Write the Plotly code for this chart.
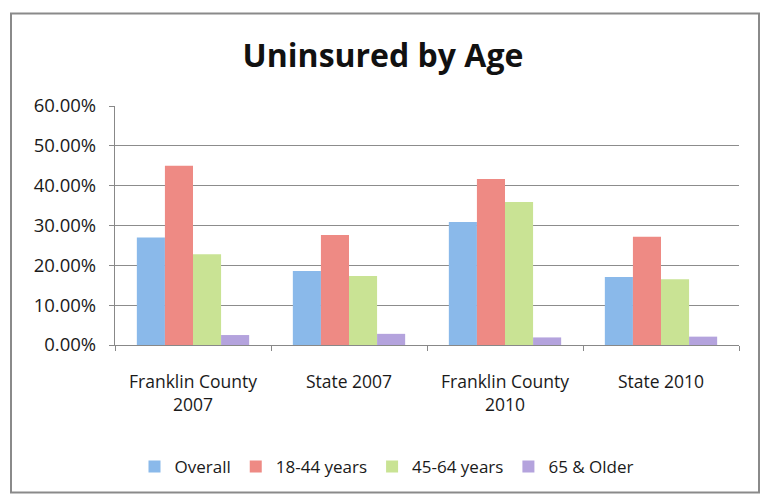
import plotly.graph_objects as go

# Uninsured rates by age group, Franklin County vs. state
categories = ["Franklin County<br>2007", "State 2007", "Franklin County<br>2010", "State 2010"]
series_names = ["Overall", "18-44 years", "45-64 years", "65 & Older"]
overall = [0.270, 0.186, 0.309, 0.171]
age_18_44 = [0.450, 0.276, 0.417, 0.272]
age_45_64 = [0.228, 0.173, 0.359, 0.165]
age_65_up = [0.025, 0.028, 0.019, 0.021]
y_ticks = [0.0, 0.1, 0.2, 0.3, 0.4, 0.5, 0.6]

series_values = [overall, age_18_44, age_45_64, age_65_up]
colors = ["#8ab9ea", "#ee8a84", "#c9e394", "#b4a3dd"]

FONT = "Open Sans"

fig = go.Figure()
for name, vals, col in zip(series_names, series_values, colors):
    fig.add_trace(go.Bar(
        x=categories, y=vals, name=name,
        marker=dict(color=col, line=dict(width=0)),
    ))

W, H = 765, 496
ml, mr, mt, mb = 115, 26, 106, 150
pw, ph = W - ml - mr, H - mt - mb


def px_x(p):
    return (p - ml) / pw


def px_y(p):
    return (H - mb - p) / ph


fig.update_layout(
    width=W, height=H,
    margin=dict(l=ml, r=mr, t=mt, b=mb),
    paper_bgcolor="white", plot_bgcolor="white",
    barmode="group", bargap=0.28, bargroupgap=0,
    font=dict(family=FONT, color="#1a1a1a", size=17),
    title=dict(
        text="<b>Uninsured by Age</b>",
        font=dict(family=FONT, size=32, color="#111"),
        x=383 / W, xanchor="center", xref="container",
        y=1 - 56 / H, yanchor="middle", yref="container",
    ),
    showlegend=True,
    legend=dict(
        orientation="h", x=px_x(387), xanchor="center",
        y=px_y(467), yanchor="middle",
        font=dict(family=FONT, size=17, color="#1a1a1a"),
        itemwidth=30, traceorder="normal", bgcolor="rgba(0,0,0,0)",
    ),
    xaxis=dict(
        type="category", tickson="boundaries",
        ticks="outside", ticklen=5, tickcolor="#888", tickwidth=1.3,
        showline=True, linecolor="#888", linewidth=1.3,
        showgrid=False, ticklabelstandoff=21,
        tickfont=dict(family=FONT, size=17.5, color="#1a1a1a"),
    ),
    yaxis=dict(
        range=[0, 0.6], tickvals=y_ticks, tickformat=".2%",
        ticks="outside", ticklen=5, tickcolor="#888", tickwidth=1.3,
        showline=True, linecolor="#888", linewidth=1.3,
        showgrid=True, gridcolor="#8c8c8c", gridwidth=1.3,
        zeroline=False, ticklabelstandoff=9,
        tickfont=dict(family=FONT, size=18.5, color="#1a1a1a"),
    ),
    shapes=[dict(
        type="rect", xref="paper", yref="paper",
        x0=px_x(11), x1=px_x(759), y0=px_y(494), y1=px_y(13),
        line=dict(color="#8a8a8a", width=2), fillcolor="rgba(0,0,0,0)",
        layer="below",
    )],
)

fig.write_html("out.html")
